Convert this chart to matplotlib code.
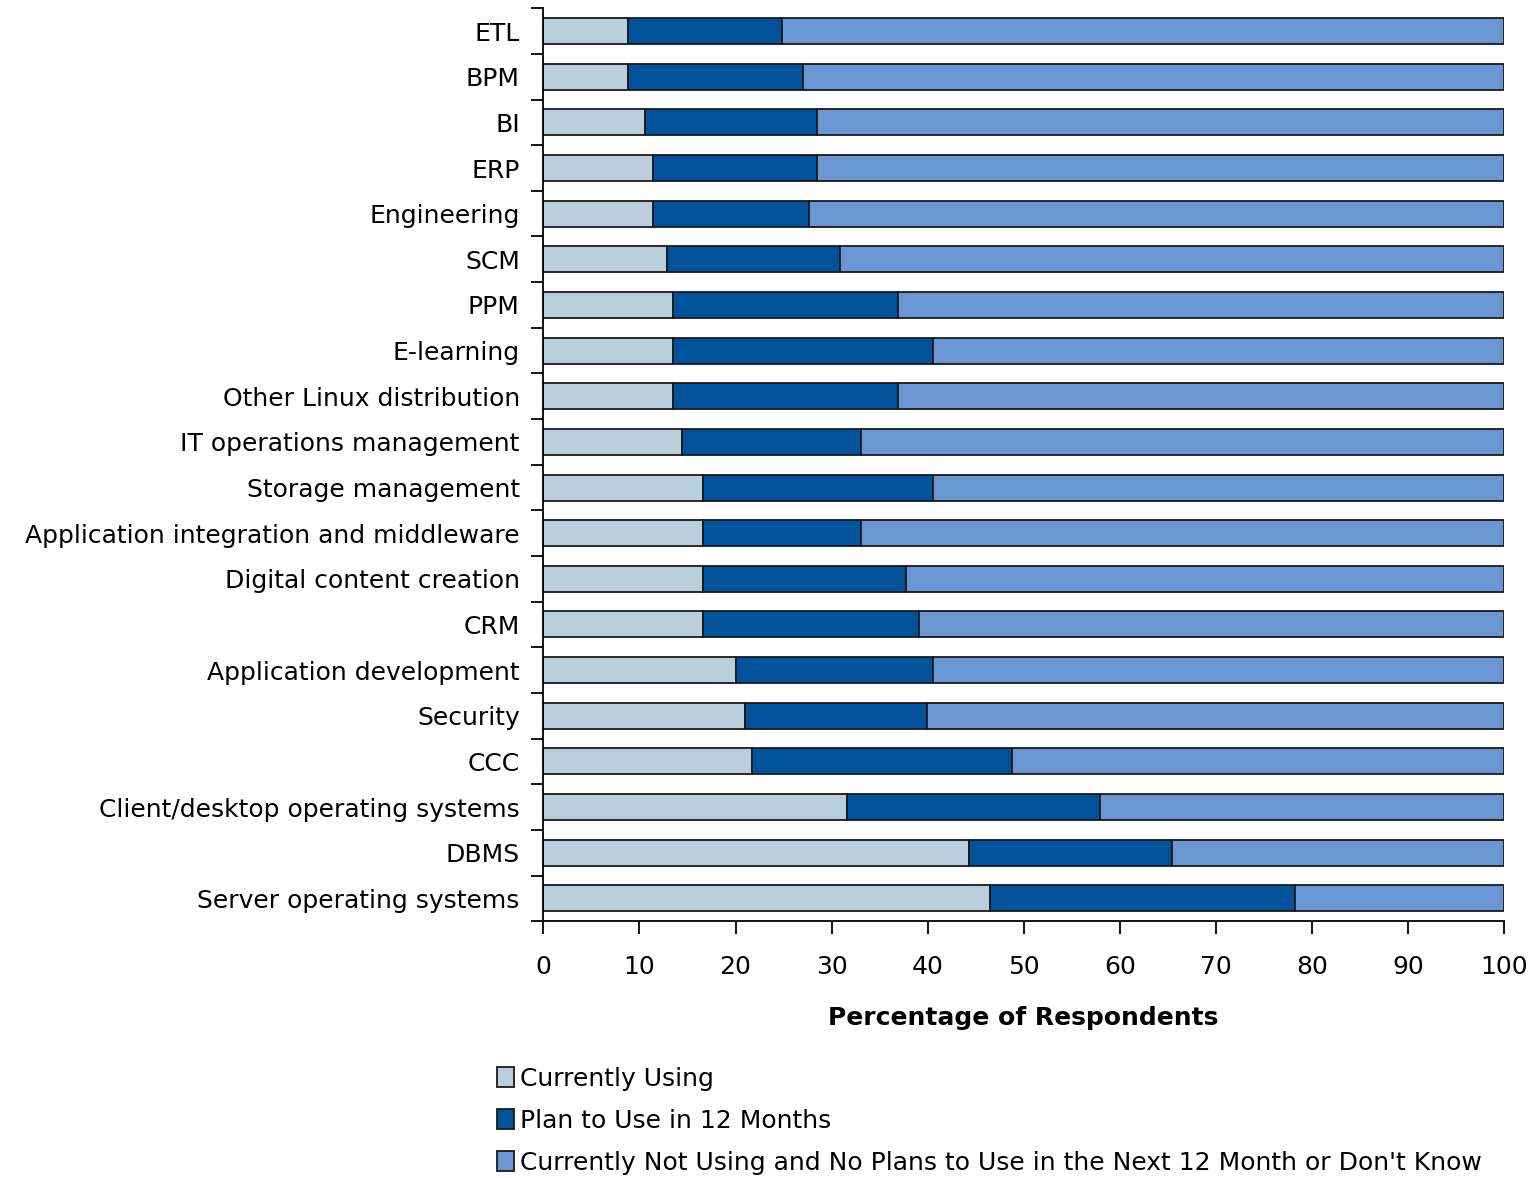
import matplotlib.pyplot as plt
import numpy as np

# Dados
categories = ["ETL", "BPM", "BI", "ERP", "Engineering", "SCM", "PPM", "E-learning",
              "Other Linux distribution", "IT operations management", "Storage management",
              "Application integration and middleware", "Digital content creation", "CRM",
              "Application development", "Security", "CCC", "Client/desktop operating systems",
              "DBMS", "Server operating systems"]
currently_using = [8.8, 8.8, 10.6, 11.4, 11.4, 12.9, 13.5, 13.5, 13.5, 14.4, 16.6, 16.6,
                   16.6, 16.6, 20.1, 21.0, 21.7, 31.6, 44.3, 46.5]
plan_to_use = [16.0, 18.2, 17.9, 17.1, 16.3, 18.0, 23.4, 27.1, 23.4, 18.7, 24.0, 16.5,
               21.1, 22.5, 20.5, 18.9, 27.1, 26.3, 21.1, 31.7]
not_using = [100 - a - b for a, b in zip(currently_using, plan_to_use)]

series_names = ["Currently Using", "Plan to Use in 12 Months",
                "Currently Not Using and No Plans to Use in the Next 12 Month or Don't Know"]
colors = ["#B9CFDB", "#00529B", "#6B96D4"]

plt.rcParams['font.family'] = ['DejaVu Sans']
FS = 18

fig = plt.figure(figsize=(15.33, 11.78), dpi=100)
ax = fig.add_axes([0.3545, 0.218, 0.6265, 0.775])

y = np.arange(len(categories))
left = np.zeros(len(categories))
for vals, col, name in zip([currently_using, plan_to_use, not_using], colors, series_names):
    ax.barh(y, vals, left=left, height=0.57, color=col, edgecolor="#1a1a1a",
            linewidth=1.3, label=name)
    left += np.array(vals)

ax.set_xlim(0, 100)
ax.set_ylim(len(categories) - 0.5, -0.5)
ax.set_xticks(np.arange(0, 101, 10))
ax.set_yticks(y)
ax.set_yticklabels(categories, fontsize=FS)
ax.tick_params(axis='y', which='major', length=0, pad=17)
ax.set_yticks(np.arange(-0.5, len(categories), 1), minor=True)
ax.tick_params(axis='y', which='minor', length=9, width=1.3, direction='out')
ax.tick_params(axis='x', labelsize=FS, length=9, width=1.3, direction='out', pad=15)
for side in ['top', 'right']:
    ax.spines[side].set_visible(False)
for side in ['left', 'bottom']:
    ax.spines[side].set_linewidth(1.3)

ax.set_xlabel("Percentage of Respondents", fontsize=FS, fontweight='bold', labelpad=20)

handles, labels = ax.get_legend_handles_labels()
fig.legend(handles, labels, loc='upper left', bbox_to_anchor=(0.318, 0.103),
           frameon=False, fontsize=FS, handlelength=0.65, handleheight=0.85,
           handletextpad=0.25, labelspacing=0.72, borderaxespad=0)

fig.savefig("out.png", dpi=100)
